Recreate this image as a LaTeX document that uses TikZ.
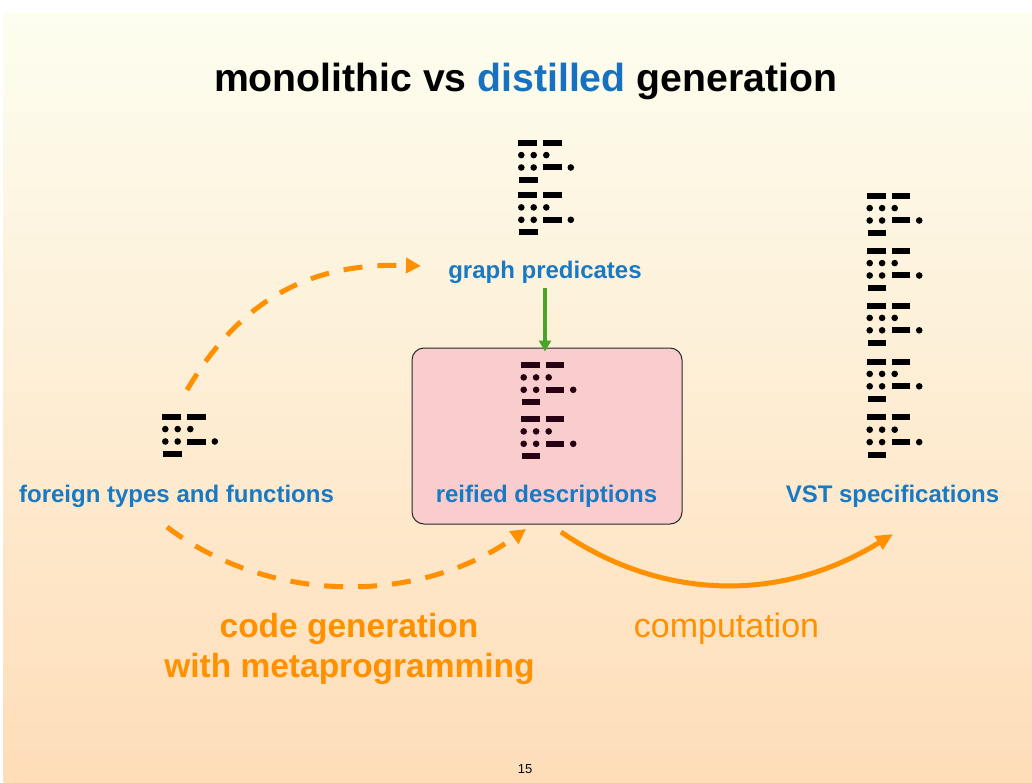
\documentclass[tikz,border=0pt]{standalone}
\usepackage{fontspec}
\setmainfont{Liberation Sans}
\usetikzlibrary{arrows.meta}

\definecolor{bgtop}{RGB}{253,254,240}
\definecolor{bgbot}{RGB}{254,221,184}
\definecolor{dblue}{RGB}{22,114,192}
\definecolor{lblue}{RGB}{24,122,196}
\definecolor{orng}{RGB}{255,145,0}
\definecolor{boxpink}{RGB}{249,205,205}
\definecolor{boxline}{RGB}{40,40,40}
\definecolor{grn}{RGB}{72,165,40}
\definecolor{inkdark}{RGB}{38,0,18}

\tikzset{
  % one "sentence" of dot/dash glyphs
  morse/.pic={
    \fill (0,-3) rectangle (19,3);
    \fill (25,-3) rectangle (43.5,3);
    \fill (3,12.4) circle[radius=3.3];
    \fill (15.4,12.4) circle[radius=3.3];
    \fill (28,12.4) circle[radius=3.3];
    \fill (3,24.8) circle[radius=3.3];
    \fill (15.4,24.8) circle[radius=3.3];
    \fill (25,21.8) rectangle (43.5,27.8);
    \fill (52.5,24.8) circle[radius=3.3];
    \fill (1,34.2) rectangle (19.7,40.2);
  },
  lbl/.style={anchor=base, inner sep=0pt, text=lblue,
    font=\bfseries\fontsize{24}{26}\selectfont},
  orlbl/.style={anchor=base, inner sep=0pt, text=orng},
  box/.style={draw=boxline, line width=1pt, fill=boxpink,
    rounded corners=12pt, minimum width=270pt, minimum height=176pt},
  dasharrow/.style={draw=orng, line width=5pt, dash pattern=on 19pt off 15pt,
    -{Triangle[length=15pt,width=15pt]}},
  solidarrow/.style={draw=orng, line width=5pt,
    -{Triangle[length=17pt,width=15pt]}},
  greenarrow/.style={draw=grn, line width=3.5pt,
    -{Triangle[length=11pt,width=12pt]}},
}

\begin{document}
\begin{tikzpicture}[x=1pt,y=-1pt]
\useasboundingbox (0,0) rectangle (1032,783);
\shade[top color=bgtop,bottom color=bgbot] (3.5,13) rectangle (1032,783);

% title
\node[anchor=base, inner sep=0pt, font=\bfseries\fontsize{39.2}{41}\selectfont]
  (title) at (525.5,92) {monolithic vs \textcolor{dblue}{distilled} generation};

% central box
\node[box] (box) at (547,436) {};

% glyph stacks
\pic[color=black] at (518.3,142.7) {morse};
\pic[color=black] at (518.3,195) {morse};
\pic[color=black] at (162.3,416.7) {morse};
\pic[color=inkdark] at (520.7,365) {morse};
\pic[color=inkdark] at (520.7,419) {morse};
\pic[color=black] at (866.7,195.7) {morse};
\pic[color=black] at (866.7,250.7) {morse};
\pic[color=black] at (866.7,305.5) {morse};
\pic[color=black] at (866.7,361.5) {morse};
\pic[color=black] at (866.7,417.3) {morse};

% labels
\node[lbl] (gp) at (545,279) {graph predicates};
\node[lbl] (ff) at (176.5,502) {foreign types and functions};
\node[lbl] (rd) at (546.5,502) {reified descriptions};
\node[lbl] (vst) at (892.5,502) {VST specifications};

\node[orlbl, font=\bfseries\fontsize{33.5}{38}\selectfont] (cg1) at (349,637) {code generation};
\node[orlbl, font=\bfseries\fontsize{33.5}{38}\selectfont] (cg2) at (349.5,677) {with metaprogramming};
\node[orlbl, font=\fontsize{34}{38}\selectfont] (comp) at (726.5,637) {computation};

\node[anchor=base, inner sep=0pt, font=\fontsize{13}{14}\selectfont] (pg) at (525,773) {15};

% connector end points
\coordinate (ffup) at (187,390);
\coordinate (gpin) at (421,266);
\coordinate (ffdown) at (167,527);
\coordinate (rdin) at (526,529);
\coordinate (rdout) at (561,532);
\coordinate (vstin) at (893,534);

% connectors
\draw[greenarrow] ([yshift=-4pt]gp.south) -- ([yshift=-4pt]gp.south |- box.north);
\draw[dasharrow] (ffup) .. controls (240,300) and (310,262) .. (gpin);
\draw[dasharrow] (ffdown) .. controls (270,605) and (420,605) .. (rdin);
\draw[solidarrow] (rdout) .. controls (660,600) and (780,604) .. (vstin);
\end{tikzpicture}
\end{document}
